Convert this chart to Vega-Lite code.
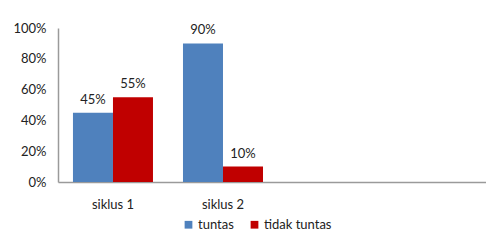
{
  "$schema": "https://vega.github.io/schema/vega-lite/v6.json",
  "autosize": "none",
  "width": 428,
  "height": 154,
  "padding": {"left": 58, "top": 28, "right": 0, "bottom": 62},
  "background": "white",
  "config": {"view": {"stroke": null}, "font": "Lato"},
  "data": {
    "values": [
      {"siklus": "siklus 1", "status": "tuntas", "value": 0.45},
      {"siklus": "siklus 1", "status": "tidak tuntas", "value": 0.55},
      {"siklus": "siklus 2", "status": "tuntas", "value": 0.90},
      {"siklus": "siklus 2", "status": "tidak tuntas", "value": 0.10}
    ]
  },
  "encoding": {
    "x": {
      "field": "siklus",
      "type": "nominal",
      "scale": {"domain": ["siklus 1", "siklus 2", "_3", "_4"], "range": [0, 440], "paddingInner": 0.2727, "paddingOuter": 0.136},
      "axis": {
        "title": null,
        "labelAngle": 0,
        "ticks": false,
        "labelPadding": 16,
        "labelFontSize": 13,
        "labelColor": "#222",
        "domainColor": "#9a9a9a",
        "domainWidth": 1.5,
        "labelExpr": "indexof(datum.label, '_') == 0 ? '' : datum.label"
      }
    },
    "xOffset": {"field": "status", "type": "nominal", "sort": ["tuntas", "tidak tuntas"], "scale": {"paddingInner": 0, "paddingOuter": 0}},
    "y": {
      "field": "value",
      "type": "quantitative",
      "scale": {"domain": [0, 1], "nice": false},
      "axis": {
        "title": null,
        "format": ".0%",
        "values": [0, 0.2, 0.4, 0.6, 0.8, 1],
        "grid": false,
        "ticks": false,
        "labelPadding": 12,
        "labelFontSize": 13,
        "labelColor": "#222",
        "domainColor": "#9a9a9a",
        "domainWidth": 1.5
      }
    }
  },
  "layer": [
    {
      "mark": {"type": "bar"},
      "encoding": {
        "color": {
          "field": "status",
          "type": "nominal",
          "sort": ["tuntas", "tidak tuntas"],
          "scale": {"domain": ["tuntas", "tidak tuntas"], "range": ["#4F81BD", "#C00000"]},
          "legend": {
            "title": null,
            "orient": "none",
            "legendX": 124,
            "legendY": 190,
            "direction": "horizontal",
            "symbolType": "square",
            "symbolSize": 60,
            "symbolStrokeWidth": 0,
            "labelFontSize": 13,
            "labelColor": "#222",
            "labelOffset": 3,
            "columnPadding": 14
          }
        }
      }
    },
    {
      "mark": {"type": "text", "baseline": "bottom", "dy": -6, "fontSize": 13, "color": "#222"},
      "encoding": {
        "text": {"field": "value", "type": "quantitative", "format": ".0%"}
      }
    }
  ]
}
